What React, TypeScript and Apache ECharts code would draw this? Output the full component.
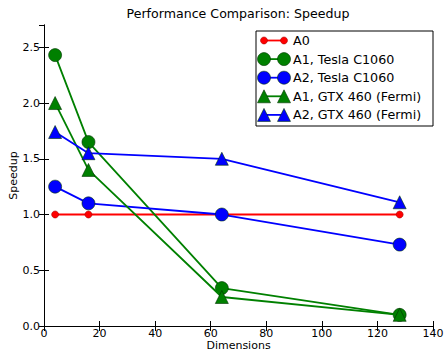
import React, { useEffect, useRef } from "react";
import * as echarts from "echarts";

// Problem sizes tested
const dimensions = [4, 16, 64, 128];

const seriesNames = [
  "A0",
  "A1, Tesla C1060",
  "A2, Tesla C1060",
  "A1, GTX 460 (Fermi)",
  "A2, GTX 460 (Fermi)",
];

// Speedup values per configuration
const a0 = [1.0, 1.0, 1.0, 1.0];
const a1Tesla = [2.43, 1.65, 0.34, 0.1];
const a2Tesla = [1.25, 1.1, 1.0, 0.73];
const a1Gtx = [2.0, 1.4, 0.26, 0.1];
const a2Gtx = [1.74, 1.55, 1.5, 1.11];

const seriesValues = [a0, a1Tesla, a2Tesla, a1Gtx, a2Gtx];
const seriesColors = ["#ff0000", "#008000", "#0000ff", "#008000", "#0000ff"];
const seriesMarkers = ["circle", "circle", "circle", "triangle", "triangle"];
const markerSizes = [7, 13, 13, 13, 13];

const FONT = "DejaVu Sans";

export default function App() {
  const ref = useRef<HTMLDivElement>(null);

  useEffect(() => {
    if (!ref.current) return;
    const chart = echarts.init(ref.current, null, { renderer: "svg" });

    const axisLine = { show: true, lineStyle: { color: "#000", width: 1 } };
    const axisTick = { show: true, inside: true, length: 5, lineStyle: { color: "#000" } };
    const label = { fontFamily: FONT, fontSize: 11, lineHeight: 11, color: "#000" };

    const series: any[] = seriesNames.map((name, i) => ({
      name,
      type: "line",
      xAxisIndex: 0,
      yAxisIndex: 0,
      data: dimensions.map((d, j) => [d, seriesValues[i][j]]),
      symbol: seriesMarkers[i],
      symbolSize: markerSizes[i],
      showAllSymbol: true,
      lineStyle: { color: seriesColors[i], width: 1.8 },
      itemStyle: {
        color: seriesColors[i],
        borderColor: i === 0 ? "#aa0000" : "#003300",
        borderWidth: 0.6,
      },
      z: 2 + i,
    }));

    // Legend drawn as line-with-two-markers entries, like the plotting tool's legend
    const legendLeft = 256;
    const legendTop = 31;
    const rowH = 18.6;
    const legendChildren: any[] = [
      {
        type: "rect",
        shape: { x: legendLeft, y: legendTop, width: 177, height: 95 },
        style: { fill: "#fff", stroke: "#000", lineWidth: 1 },
      },
    ];
    seriesNames.forEach((name, i) => {
      const cy = legendTop + 9.5 + i * rowH;
      const x1 = legendLeft + 8;
      const x2 = legendLeft + 28;
      legendChildren.push({
        type: "line",
        shape: { x1, y1: cy, x2, y2: cy },
        style: { stroke: seriesColors[i], lineWidth: 1.8 },
      });
      [x1, x2].forEach((mx) => {
        const s = markerSizes[i];
        if (seriesMarkers[i] === "circle") {
          legendChildren.push({
            type: "circle",
            shape: { cx: mx, cy, r: s / 2 },
            style: {
              fill: seriesColors[i],
              stroke: i === 0 ? "#aa0000" : "#003300",
              lineWidth: 0.6,
            },
          });
        } else {
          legendChildren.push({
            type: "polygon",
            shape: {
              points: [
                [mx, cy - s / 2],
                [mx + s / 2, cy + s / 2],
                [mx - s / 2, cy + s / 2],
              ],
            },
            style: { fill: seriesColors[i], stroke: "#003300", lineWidth: 0.6 },
          });
        }
      });
      legendChildren.push({
        type: "text",
        x: legendLeft + 37,
        y: cy,
        style: {
          text: name,
          fontFamily: FONT,
          fontSize: 12.7,
          fill: "#000",
          textVerticalAlign: "middle",
        },
      });
    });

    chart.setOption({
      animation: false,
      backgroundColor: "#fff",
      grid: {
        left: 44,
        right: 12,
        top: 25,
        bottom: 27,
        containLabel: false,
        outerBoundsMode: "none",
      },
      xAxis: [
        {
          type: "value",
          min: 0,
          max: 140,
          interval: 20,
          position: "bottom",
          name: "Dimensions",
          nameLocation: "middle",
          nameGap: 14,
          nameMoveOverlap: false,
          nameTextStyle: { fontFamily: FONT, fontSize: 11, lineHeight: 11, color: "#000" },
          axisLine,
          axisTick,
          splitLine: { show: false },
          axisLabel: { ...label, margin: 2 },
        },
        {
          type: "value",
          min: 0,
          max: 140,
          interval: 20,
          position: "top",
          axisLine,
          axisTick,
          splitLine: { show: false },
          axisLabel: { show: false },
        },
      ],
      yAxis: [
        {
          type: "value",
          min: 0,
          max: 2.7,
          interval: 0.5,
          position: "left",
          name: "Speedup",
          nameLocation: "middle",
          nameGap: 25,
          nameMoveOverlap: false,
          nameTextStyle: { fontFamily: FONT, fontSize: 11, color: "#000" },
          axisLine,
          axisTick,
          splitLine: { show: false },
          axisLabel: {
            ...label,
            margin: 4,
            showMaxLabel: false,
            formatter: (v: number) => v.toFixed(1),
          },
        },
        {
          type: "value",
          min: 0,
          max: 2.7,
          interval: 0.5,
          position: "right",
          axisLine,
          axisTick,
          splitLine: { show: false },
          axisLabel: { show: false },
        },
      ],
      series,
      graphic: [
        {
          type: "text",
          x: 238,
          y: 13,
          style: {
            text: "Performance Comparison: Speedup",
            fontFamily: FONT,
            fontSize: 12.6,
            fill: "#000",
            textAlign: "center",
            textVerticalAlign: "middle",
          },
        },
        { type: "group", z: 100, children: legendChildren },
      ],
    });

    return () => chart.dispose();
  }, []);

  return <div ref={ref} style={{ width: 445, height: 353, position: "absolute", left: 0, top: 0 }} />;
}
